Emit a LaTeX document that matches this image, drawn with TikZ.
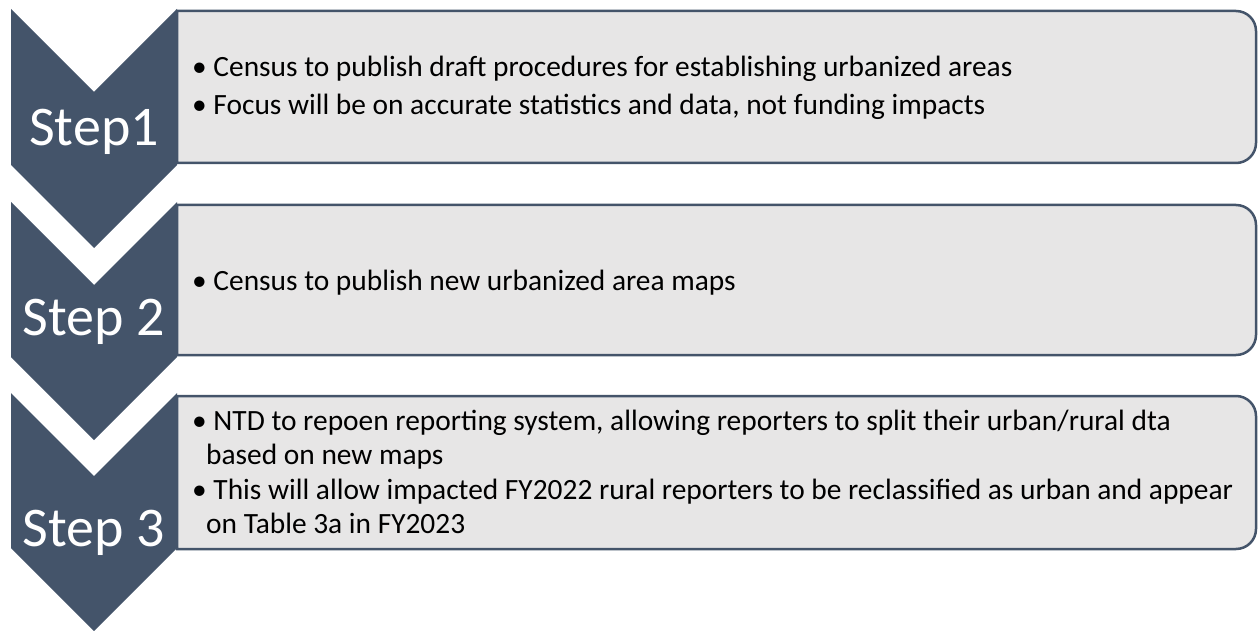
\documentclass[tikz,border=0pt]{standalone}
\usepackage{fontspec}
\setmainfont{Carlito}
\usepackage{tikz}
\definecolor{slate}{HTML}{44546A}
\definecolor{panel}{HTML}{E7E6E6}

\begin{document}
\begin{tikzpicture}[
  x=1pt, y=-1pt,
  chev/.style={fill=slate},
  stepbox/.style={draw=slate, fill=panel, line width=2.5pt},
  steplbl/.style={text=white, inner sep=0pt, anchor=base,
                  font=\fontsize{56}{60}\selectfont},
  btxt/.style={inner sep=0pt, anchor=base west,
               font=\fontsize{29.4}{34}\selectfont}
]
\useasboundingbox (0,0) rectangle (1258,631);

%─── Step 1 ───────────────────────────────────────────────
\fill[chev] (11,9) -- (94,92) -- (177,9) -- (177,165) -- (94,248)
  -- (11,165) -- cycle;
\draw[stepbox] (177,11) -- (1236,11) arc[start angle=90, end angle=0, radius=20pt]
  -- (1256,143) arc[start angle=0, end angle=-90, radius=20pt] -- (177,163) -- cycle;
\node[steplbl] (lblone) at (94,146) {Step1};
\node[btxt] (oneA) at (192,77)
  {\textbullet\ Census to publish draft procedures for establishing urbanized areas};
\node[btxt] (oneB) at (192,115)
  {\textbullet\ Focus will be on accurate statistics and data, not funding impacts};

%─── Step 2 ───────────────────────────────────────────────
\fill[chev] (11,202) -- (94,285) -- (177,202) -- (177,357) -- (94,440)
  -- (11,357) -- cycle;
\draw[stepbox] (177,205) -- (1236,205) arc[start angle=90, end angle=0, radius=20pt]
  -- (1256,335) arc[start angle=0, end angle=-90, radius=20pt] -- (177,355) -- cycle;
\node[steplbl] (lbltwo) at (94,335) {Step 2};
\node[btxt] (twoA) at (192,290)
  {\textbullet\ Census to publish new urbanized area maps};

%─── Step 3 ───────────────────────────────────────────────
\fill[chev] (11,393) -- (94,476) -- (177,393) -- (177,548) -- (94,631)
  -- (11,548) -- cycle;
\draw[stepbox] (177,396) -- (1236,396) arc[start angle=90, end angle=0, radius=20pt]
  -- (1256,529) arc[start angle=0, end angle=-90, radius=20pt] -- (177,549) -- cycle;
\node[steplbl] (lblthree) at (94,546) {Step 3};
\node[btxt] (threeA) at (192,430)
  {\textbullet\ NTD to repoen reporting system, allowing reporters to split their urban/rural dta};
\node[btxt] (threeB) at (206,464) {based on new maps};
\node[btxt] (threeC) at (192,499)
  {\textbullet\ This will allow impacted FY2022 rural reporters to be reclassified as urban and appear};
\node[btxt] (threeD) at (206,533) {on Table 3a in FY2023};

\end{tikzpicture}
\end{document}
